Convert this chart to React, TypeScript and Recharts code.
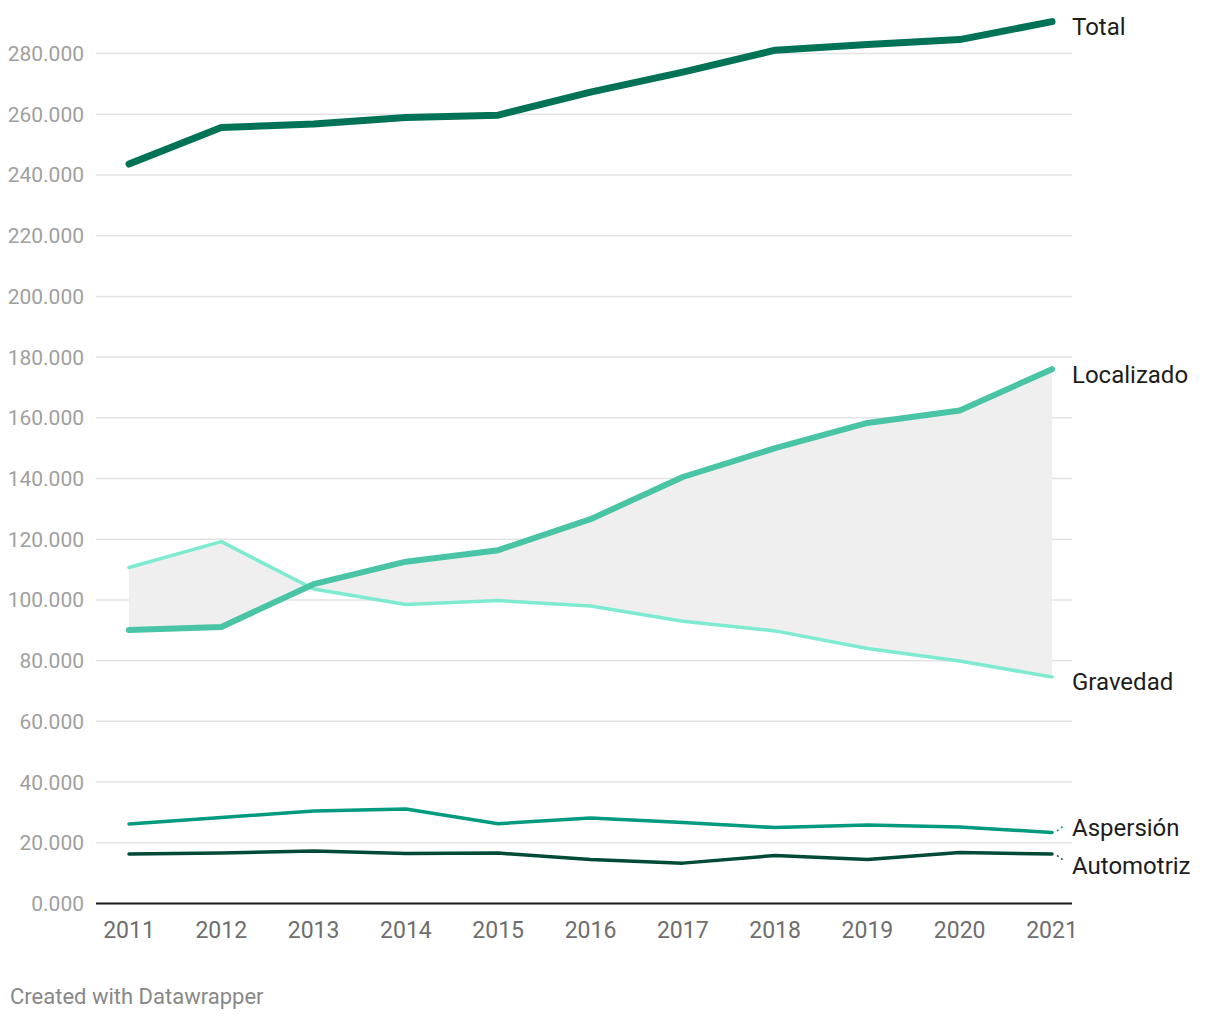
import React from 'react';
import { ComposedChart, Line, Area, XAxis, YAxis, CartesianGrid } from 'recharts';

const years = ['2011', '2012', '2013', '2014', '2015', '2016', '2017', '2018', '2019', '2020', '2021'];
const total = [243600, 255600, 256800, 258900, 259700, 267300, 273900, 281100, 283000, 284600, 290500];
const localizado = [90100, 91100, 105200, 112600, 116400, 126600, 140500, 150000, 158300, 162400, 176000];
const gravedad = [110700, 119200, 103600, 98500, 99800, 98000, 93000, 89800, 84000, 79900, 74600];
const aspersion = [26200, 28300, 30500, 31100, 26300, 28200, 26700, 25000, 25900, 25200, 23400];
const automotriz = [16300, 16600, 17300, 16500, 16600, 14500, 13300, 15800, 14500, 16800, 16300];
const yTicks = [0, 20000, 40000, 60000, 80000, 100000, 120000, 140000, 160000, 180000, 200000, 220000, 240000, 260000, 280000];
const yMax = 295000;

const data = years.map((y, i) => ({
  year: y,
  total: total[i],
  localizado: localizado[i],
  gravedad: gravedad[i],
  aspersion: aspersion[i],
  automotriz: automotriz[i],
  band: [gravedad[i], localizado[i]],
}));

const FONT = 'Roboto, sans-serif';
const last = years.length - 1;

function endLabel(name: string, dy: number, connector?: string, color?: string) {
  return (props: any) => {
    const { x, y, index } = props;
    if (index !== last) return null;
    return (
      <g>
        {connector ? (
          <line
            x1={x + 5}
            y1={y + (connector === 'up' ? -1.5 : 1.5)}
            x2={x + 11}
            y2={y + (connector === 'up' ? -6 : 6)}
            stroke={color || '#333'}
            strokeWidth={1.5}
            strokeDasharray="2 3"
          />
        ) : null}
        <text
          x={x + 20}
          y={y + dy}
          dy="0.35em"
          fontFamily={FONT}
          fontSize={24}
          fill="#1d1d1d"
        >
          {name}
        </text>
      </g>
    );
  };
}

function gridCoords(p: any) {
  const off = (p && p.offset) || { top: 8, height: 895.5 };
  const top = typeof off.top === 'number' ? off.top : 8;
  const h = typeof off.height === 'number' ? off.height : 895.5;
  return yTicks.map((t) => top + h * (1 - t / yMax));
}

export default function App() {
  return (
    <div style={{ margin: -8, position: 'relative', width: 1220, height: 1020, background: '#fff' }}>
      <ComposedChart
        width={1220}
        height={1020}
        data={data}
        margin={{ top: 8, right: 148, bottom: 86.5, left: 0 }}
      >
        <CartesianGrid
          vertical={false}
          stroke="#e3e3e3"
          strokeWidth={1.5}
          horizontalCoordinatesGenerator={gridCoords}
        />
        <XAxis
          dataKey="year"
          padding={{ left: 33, right: 20 }}
          axisLine={{ stroke: '#1a1a1a', strokeWidth: 2 }}
          tickLine={false}
          tickSize={0}
          tickMargin={18}
          height={30}
          interval={0}
          tick={{ fill: '#6e6e6e', fontSize: 23, fontFamily: FONT }}
        />
        <YAxis
          domain={[0, yMax]}
          ticks={yTicks}
          interval={0}
          width={96}
          axisLine={false}
          tickLine={false}
          tickSize={0}
          tickMargin={12}
          tickFormatter={(v: number) => (v / 1000).toFixed(3)}
          tick={{ fill: '#a0a0a0', fontSize: 21, fontFamily: FONT }}
        />
        <Area
          dataKey="band"
          stroke="none"
          fill="#efefef"
          fillOpacity={1}
          isAnimationActive={false}
          activeDot={false}
        />
        <Line
          dataKey="gravedad"
          stroke="#7eebd0"
          strokeWidth={3.5}
          dot={false}
          strokeLinecap="round"
          strokeLinejoin="round"
          isAnimationActive={false}
          label={endLabel('Gravedad', 5)}
        />
        <Line
          dataKey="localizado"
          stroke="#49c4a5"
          strokeWidth={6}
          dot={false}
          strokeLinecap="round"
          strokeLinejoin="round"
          isAnimationActive={false}
          label={endLabel('Localizado', 5)}
        />
        <Line
          dataKey="aspersion"
          stroke="#009a7f"
          strokeWidth={3.5}
          dot={false}
          strokeLinecap="round"
          strokeLinejoin="round"
          isAnimationActive={false}
          label={endLabel('Aspersión', -4.5, 'up', '#009a7f')}
        />
        <Line
          dataKey="automotriz"
          stroke="#004b37"
          strokeWidth={3.5}
          dot={false}
          strokeLinecap="round"
          strokeLinejoin="round"
          isAnimationActive={false}
          label={endLabel('Automotriz', 12, 'down', '#004b37')}
        />
        <Line
          dataKey="total"
          stroke="#007256"
          strokeWidth={7}
          dot={false}
          strokeLinecap="round"
          strokeLinejoin="round"
          isAnimationActive={false}
          label={endLabel('Total', 4.5)}
        />
      </ComposedChart>
      <div
        style={{
          position: 'absolute',
          left: 10,
          top: 984,
          fontFamily: FONT,
          fontSize: 22,
          color: '#888888',
          whiteSpace: 'nowrap',
        }}
      >
        Created with Datawrapper
      </div>
    </div>
  );
}
